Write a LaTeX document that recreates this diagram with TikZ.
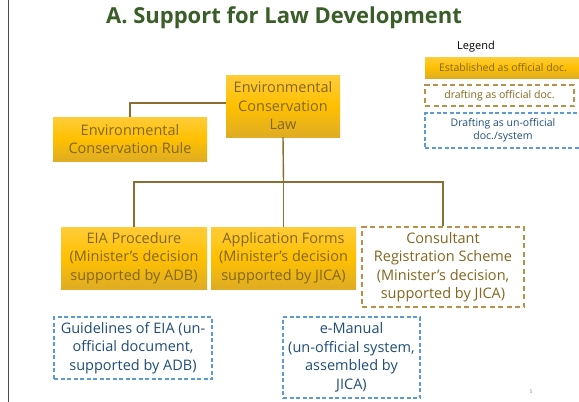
\documentclass[tikz,border=0pt]{standalone}
\usepackage{fontspec}
\setmainfont{Open Sans}
\definecolor{titlegreen}{RGB}{58,94,40}
\definecolor{goldtop}{RGB}{255,204,56}
\definecolor{goldmid}{RGB}{255,192,0}
\definecolor{goldbot}{RGB}{222,172,36}
\definecolor{goldtext}{RGB}{130,102,30}
\definecolor{linebrown}{RGB}{140,110,50}
\definecolor{dashbrown}{RGB}{184,144,74}
\definecolor{dashblue}{RGB}{91,155,213}
\definecolor{bluetext}{RGB}{31,78,121}
\begin{document}
\begin{tikzpicture}[x=1pt,y=-1pt,
  box/.style={align=center,inner sep=0pt,font=\fontsize{14.5}{18.5}\selectfont},
  official/.style={box,top color=goldtop,bottom color=goldbot,middle color=goldmid,text=goldtext},
  drafting/.style={box,draw=dashbrown,line width=1.6pt,dash pattern=on 5pt off 3.5pt,text=goldtext},
  unofficial/.style={box,draw=dashblue,line width=1.3pt,dash pattern=on 4pt off 2.5pt,text=bluetext},
  legtext/.style={font=\fontsize{10.5}{13}\selectfont},
  conn/.style={draw=linebrown,line width=1.4pt}]
\useasboundingbox (0,0) rectangle (579,402);
\fill[white] (0,0) rectangle (579,402);
\draw[line width=0.8pt,black!70] (8,0) -- (8,402);
\node[font=\bfseries\fontsize{22}{26}\selectfont,text=titlegreen] (title) at (284,18) {A. Support for Law Development};
% legend
\node[legtext,font=\fontsize{11}{13}\selectfont] (legend) at (476,47) {Legend};
\node[official,legtext,minimum width=156pt,minimum height=21pt] (leg1) at (503,67.5) {Established as official doc.};
\node[drafting,legtext,minimum width=149pt,minimum height=21pt] (leg2) at (499.5,95.5) {drafting as official doc.};
\node[unofficial,legtext,line width=1.2pt,minimum width=156pt,minimum height=35pt] (leg3) at (503,130.5) {Drafting as un-official\\doc./system};
% main nodes
\node[official,minimum width=114pt,minimum height=62pt] (ecl) at (283,106) {Environmental\\Conservation\\Law};
\node[official,minimum width=154pt,minimum height=44pt] (ecr) at (130,139) {Environmental\\Conservation Rule};
\node[official,minimum width=146pt,minimum height=62pt] (eia) at (134,258) {EIA Procedure\\(Minister’s decision\\supported by ADB)};
\node[official,minimum width=145pt,minimum height=62pt] (app) at (283.5,258) {Application Forms\\(Minister’s decision\\supported by JICA)};
\node[drafting,minimum width=162pt,minimum height=80pt] (cons) at (443,267) {Consultant\\Registration Scheme\\(Minister’s decision,\\supported by JICA)};
\node[unofficial,minimum width=158pt,minimum height=62pt] (guid) at (133,348) {Guidelines of EIA (un-\\official document,\\supported by ADB)};
\node[unofficial,minimum width=137pt,minimum height=81pt] (eman) at (351.5,357.5) {e-Manual\\(un-official system,\\assembled by\\JICA)};
\node[font=\fontsize{5}{6}\selectfont,text=black!45] (pnum) at (531,392) {5};
% connectors
\coordinate (bar) at (283.5,182);
\draw[conn] ([yshift=3pt]ecl.west) -| (ecr.north);
\draw[conn] (ecl.south) -- (bar);
\draw[conn] (eia.north) |- (bar) -| (cons.north);
\draw[conn] (app.north) -- (bar);
\end{tikzpicture}
\end{document}
